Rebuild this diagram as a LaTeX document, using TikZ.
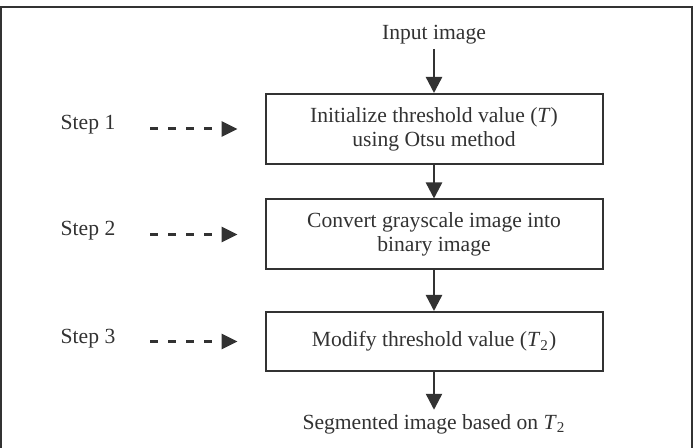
\documentclass[tikz,border=0pt]{standalone}
\usepackage{fontspec}
\setmainfont{Liberation Serif}
\usepackage{tikz}
\usetikzlibrary{arrows.meta}
\definecolor{inkgray}{RGB}{50,50,50}

\begin{document}
\begin{tikzpicture}[x=0.5pt, y=-0.5pt,
    every node/.style={font=\fontsize{10.8}{12}\selectfont, text=inkgray},
    procbox/.style={draw=inkgray, line width=1pt, minimum width=168.5pt, minimum height=35pt, align=center, inner sep=0pt},
    flow/.style={draw=inkgray, line width=1.2pt, -{Triangle[length=8pt, width=8pt]}},
    steparrow/.style={draw=inkgray, line width=1.5pt, dash pattern=on 4pt off 5pt,
        -{Triangle[length=8pt, width=7.5pt]}, shorten <=14pt, shorten >=13.5pt}]
    \useasboundingbox (0,0) rectangle (695,448);
    \draw[inkgray, line width=1pt] (1,470) -- (1,7) -- (692,7) -- (692,470);
    \node[inner sep=2pt] (input) at (434,35) {Input image};
    \node[procbox] (init) at (434,129) {Initialize threshold value (\textit{T})\\using Otsu method};
    \node[procbox] (conv) at (434,234.5) {Convert grayscale image into\\binary image};
    \node[procbox, minimum height=29.5pt] (modify) at (434,341.5) {Modify threshold value (\textit{T}\textsubscript{2})};
    \node[inner sep=2pt] (output) at (434,424) {Segmented image based on \textit{T}\textsubscript{2}};
    \node (s1) at (88,125) {Step 1};
    \node (s2) at (88,231) {Step 2};
    \node (s3) at (88,339) {Step 3};
    \draw[flow] (input) -- (init);
    \draw[flow] (init) -- (conv);
    \draw[flow] (conv) -- (modify);
    \draw[flow] (modify) -- (output);
    \draw[steparrow] (s1.east |- init.west) -- (init.west);
    \draw[steparrow] (s2.east |- conv.west) -- (conv.west);
    \draw[steparrow] (s3.east |- modify.west) -- (modify.west);
\end{tikzpicture}
\end{document}
